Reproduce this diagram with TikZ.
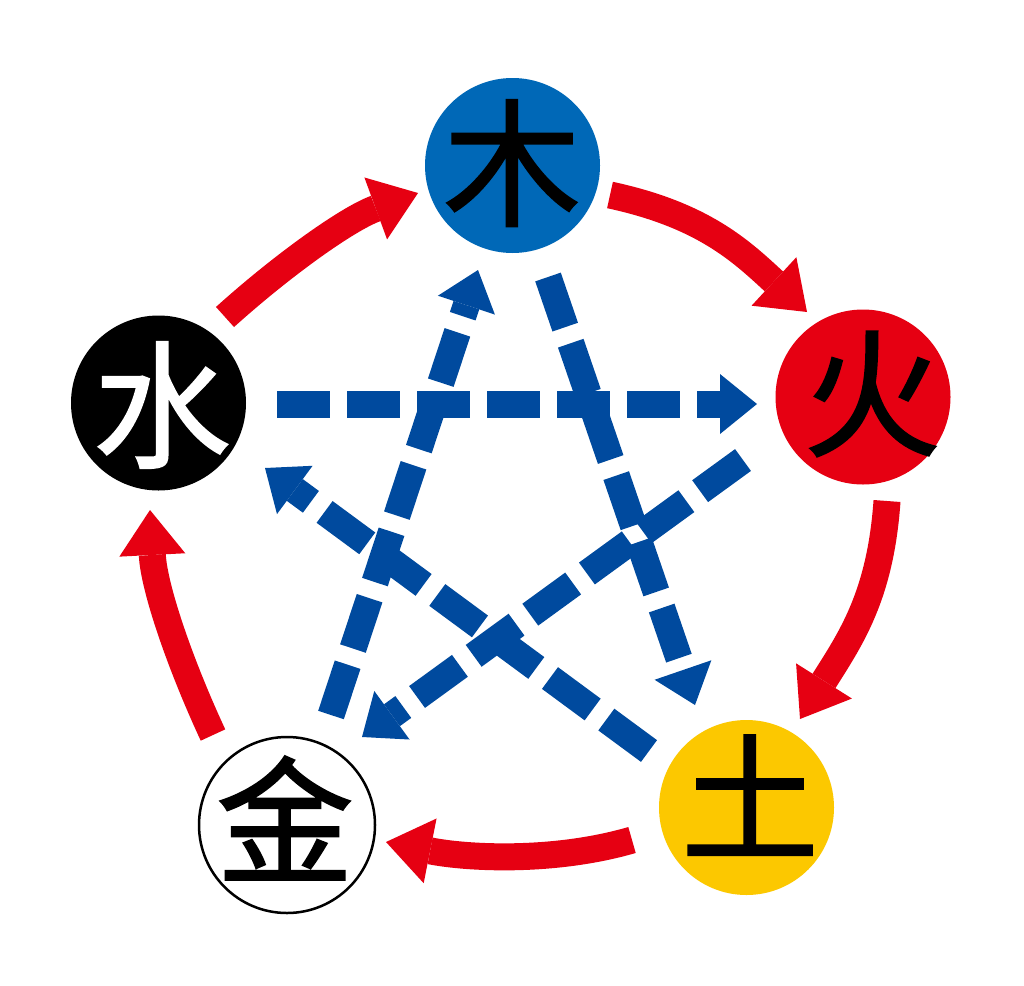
\documentclass[tikz,border=0pt]{standalone}
\usepackage{fontspec}
\newfontfamily\cjk[FakeBold=1.2]{Noto Sans CJK SC}
\usetikzlibrary{arrows.meta}
\definecolor{woodblue}{RGB}{0,104,183}
\definecolor{firered}{RGB}{230,0,18}
\definecolor{earthyellow}{RGB}{252,200,0}
\definecolor{dashblue}{RGB}{0,74,158}
\definecolor{arrowred}{RGB}{230,0,18}
\begin{document}
\begin{tikzpicture}[x=1pt,y=-1pt,
  elem/.style={circle, minimum size=175pt, inner sep=0pt},
  glyph/.style={font=\cjk\fontsize{138}{140}\selectfont, inner sep=0pt},
  gen/.style={draw=arrowred, line width=27pt, -{Triangle[length=45pt,width=66pt,line width=0pt 0 0]}},
  ctl/.style={draw=dashblue, line width=27pt, dash pattern=on 53pt off 17pt, -{Triangle[length=37pt,width=60pt,line width=0pt 0 0]}}]
\fill[white] (0,0) rectangle (1024,985);
\useasboundingbox (0,0) rectangle (1024,985);
% element circles
\node[elem, fill=woodblue] (mu) at (512.5,165.5) {};
\node[glyph] (mut) at (512,163) {木};
\node[elem, fill=firered] (huo) at (863,397) {};
\node[glyph] (huot) at (872,394) {火};
\node[elem, fill=earthyellow] (tu) at (746.5,807.5) {};
\node[glyph] (tut) at (750,795) {土};
\node[elem, fill=white, draw=black, line width=2.5pt, minimum size=176pt] (jin) at (287,825) {};
\node[glyph] (jint) at (285,818) {金};
\node[elem, fill=black] (shui) at (158.5,403) {};
\node[glyph, text=white] (shuit) at (162,405) {水};
% generating cycle end points
\coordinate (g1s) at (225,317); \coordinate (g1e) at (418,193);
\coordinate (g2s) at (610,195); \coordinate (g2e) at (807,312);
\coordinate (g3s) at (887,501); \coordinate (g3e) at (800,719);
\coordinate (g4s) at (632,840); \coordinate (g4e) at (386,842);
\coordinate (g5s) at (213,735); \coordinate (g5e) at (150,510);
\draw[gen] (g1s) .. controls (281.5,266) and (347,219) .. (g1e);
\draw[gen] (g2s) .. controls (703,215) and (741,251) .. (g2e);
\draw[gen] (g3s) .. controls (880.4,595.8) and (850.6,638.7) .. (g3e);
\draw[gen] (g4s) .. controls (553,863) and (466,858) .. (g4e);
\draw[gen] (g5s) .. controls (180,664) and (154,588) .. (g5e);
% controlling cycle end points
\coordinate (c1s) at (277,404); \coordinate (c1e) at (757,404);
\coordinate (c2s) at (331,715); \coordinate (c2e) at (478,270);
\coordinate (c3s) at (548,277); \coordinate (c3e) at (695,705);
\coordinate (c4s) at (649,751); \coordinate (c4e) at (265,468);
\coordinate (c5s) at (743,460); \coordinate (c5e) at (362,737);
\draw[ctl] (c2s) -- (c2e);
\draw[ctl] (c3s) -- (c3e);
\draw[ctl] (c4s) -- (c4e);
\draw[ctl] (c5s) -- (c5e);
\draw[ctl] (c1s) -- (c1e);
\end{tikzpicture}
\end{document}
